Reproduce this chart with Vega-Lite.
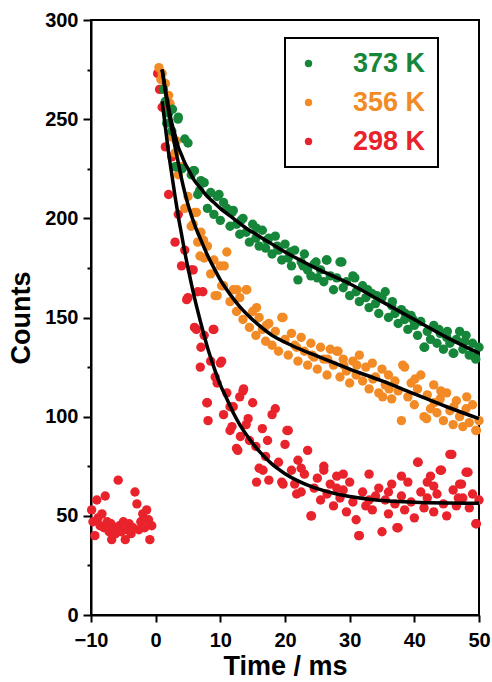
{
  "$schema": "https://vega.github.io/schema/vega-lite/v6.json",
  "width": 388,
  "height": 595,
  "autosize": {"type": "none"},
  "padding": {"left": 91, "top": 20, "right": 13, "bottom": 67},
  "background": "white",
  "config": {
    "view": {"stroke": "black", "strokeWidth": 2},
    "font": "Liberation Sans",
    "axis": {"labelFont": "Liberation Sans", "labelFontWeight": "bold", "labelFontSize": 20, "labelColor": "black", "titleFont": "Liberation Sans", "titleFontWeight": "bold", "titleFontSize": 27, "titleColor": "black"},
    "legend": {"strokeWidth": 2}
  },
  "datasets": {
    "pts": [
      {"series":"298 K","time":-9.9,"counts":53},{"series":"298 K","time":-9.7,"counts":47},{"series":"298 K","time":-9.4,"counts":40},{"series":"298 K","time":-9.1,"counts":58},{"series":"298 K","time":-8.9,"counts":49},{"series":"298 K","time":-8.6,"counts":45},{"series":"298 K","time":-8.3,"counts":51},{"series":"298 K","time":-8.0,"counts":44},{"series":"298 K","time":-7.8,"counts":60},{"series":"298 K","time":-7.5,"counts":47},{"series":"298 K","time":-7.2,"counts":42},{"series":"298 K","time":-6.9,"counts":46},{"series":"298 K","time":-6.8,"counts":38},{"series":"298 K","time":-6.5,"counts":44},{"series":"298 K","time":-6.2,"counts":41},{"series":"298 K","time":-5.8,"counts":68},{"series":"298 K","time":-5.6,"counts":45},{"series":"298 K","time":-5.3,"counts":42},{"series":"298 K","time":-5.0,"counts":47},{"series":"298 K","time":-4.7,"counts":38},{"series":"298 K","time":-4.4,"counts":43},{"series":"298 K","time":-4.1,"counts":46},{"series":"298 K","time":-3.8,"counts":41},{"series":"298 K","time":-3.5,"counts":44},{"series":"298 K","time":-3.2,"counts":62},{"series":"298 K","time":-2.9,"counts":56},{"series":"298 K","time":-2.6,"counts":43},{"series":"298 K","time":-2.3,"counts":47},{"series":"298 K","time":-2.0,"counts":51},{"series":"298 K","time":-1.7,"counts":44},{"series":"298 K","time":-1.4,"counts":53},{"series":"298 K","time":-1.1,"counts":48},{"series":"298 K","time":-0.9,"counts":38},{"series":"298 K","time":-0.6,"counts":45},
      {"series":"298 K","time":0.3,"counts":273},{"series":"298 K","time":0.6,"counts":265},{"series":"298 K","time":1.0,"counts":256},{"series":"298 K","time":1.5,"counts":236},{"series":"298 K","time":2.0,"counts":212},{"series":"298 K","time":2.5,"counts":231},{"series":"298 K","time":3.0,"counts":188},{"series":"298 K","time":3.5,"counts":202},{"series":"298 K","time":4.0,"counts":176},{"series":"298 K","time":4.5,"counts":184},{"series":"298 K","time":5.0,"counts":160},{"series":"298 K","time":5.5,"counts":174},{"series":"298 K","time":6.0,"counts":145},{"series":"298 K","time":6.5,"counts":163},{"series":"298 K","time":7.0,"counts":135},{"series":"298 K","time":7.5,"counts":141},{"series":"298 K","time":8.0,"counts":107},{"series":"298 K","time":8.5,"counts":128},{"series":"298 K","time":9.0,"counts":144},{"series":"298 K","time":9.5,"counts":117},{"series":"298 K","time":10.0,"counts":127},{"series":"298 K","time":10.5,"counts":101},{"series":"298 K","time":11.0,"counts":112},{"series":"298 K","time":11.5,"counts":93},{"series":"298 K","time":12.0,"counts":105},{"series":"298 K","time":12.5,"counts":84},{"series":"298 K","time":13.0,"counts":110},{"series":"298 K","time":13.5,"counts":113},{"series":"298 K","time":14.0,"counts":96},{"series":"298 K","time":14.5,"counts":88},{"series":"298 K","time":15.0,"counts":107},{"series":"298 K","time":15.5,"counts":85},{"series":"298 K","time":16.0,"counts":74},{"series":"298 K","time":16.5,"counts":94},{"series":"298 K","time":17.0,"counts":80},{"series":"298 K","time":17.5,"counts":68},{"series":"298 K","time":18.0,"counts":101},{"series":"298 K","time":18.5,"counts":104},{"series":"298 K","time":19.0,"counts":77},{"series":"298 K","time":19.5,"counts":67},{"series":"298 K","time":20.0,"counts":86},{"series":"298 K","time":20.5,"counts":93},{"series":"298 K","time":21.0,"counts":73},{"series":"298 K","time":21.5,"counts":66},{"series":"298 K","time":22.0,"counts":78},{"series":"298 K","time":22.5,"counts":62},{"series":"298 K","time":23.0,"counts":71},{"series":"298 K","time":23.5,"counts":83},{"series":"298 K","time":24.0,"counts":50},{"series":"298 K","time":24.5,"counts":64},{"series":"298 K","time":25.0,"counts":69},{"series":"298 K","time":25.5,"counts":58},{"series":"298 K","time":26.0,"counts":73},{"series":"298 K","time":26.5,"counts":61},{"series":"298 K","time":27.0,"counts":66},{"series":"298 K","time":27.5,"counts":55},{"series":"298 K","time":28.0,"counts":70},{"series":"298 K","time":28.5,"counts":59},{"series":"298 K","time":29.0,"counts":63},{"series":"298 K","time":29.5,"counts":52},{"series":"298 K","time":30.0,"counts":67},{"series":"298 K","time":30.5,"counts":57},{"series":"298 K","time":31.0,"counts":48},{"series":"298 K","time":31.5,"counts":40},{"series":"298 K","time":32.0,"counts":62},{"series":"298 K","time":32.5,"counts":55},{"series":"298 K","time":33.0,"counts":71},{"series":"298 K","time":33.5,"counts":53},{"series":"298 K","time":34.0,"counts":60},{"series":"298 K","time":34.5,"counts":64},{"series":"298 K","time":35.0,"counts":42},{"series":"298 K","time":35.5,"counts":58},{"series":"298 K","time":36.0,"counts":51},{"series":"298 K","time":36.5,"counts":66},{"series":"298 K","time":37.0,"counts":56},{"series":"298 K","time":37.5,"counts":44},{"series":"298 K","time":38.0,"counts":60},{"series":"298 K","time":38.5,"counts":53},{"series":"298 K","time":39.0,"counts":67},{"series":"298 K","time":39.5,"counts":57},{"series":"298 K","time":40.0,"counts":49},{"series":"298 K","time":40.5,"counts":77},{"series":"298 K","time":41.0,"counts":62},{"series":"298 K","time":41.5,"counts":54},{"series":"298 K","time":42.0,"counts":59},{"series":"298 K","time":42.5,"counts":70},{"series":"298 K","time":43.0,"counts":52},{"series":"298 K","time":43.5,"counts":61},{"series":"298 K","time":44.0,"counts":73},{"series":"298 K","time":44.5,"counts":56},{"series":"298 K","time":45.0,"counts":50},{"series":"298 K","time":45.5,"counts":81},{"series":"298 K","time":46.0,"counts":63},{"series":"298 K","time":46.5,"counts":55},{"series":"298 K","time":47.0,"counts":66},{"series":"298 K","time":47.5,"counts":59},{"series":"298 K","time":48.0,"counts":72},{"series":"298 K","time":48.5,"counts":54},{"series":"298 K","time":49.0,"counts":61},{"series":"298 K","time":49.5,"counts":46},{"series":"298 K","time":50.0,"counts":58},
      {"series":"298 K","time":4.8,"counts":159},{"series":"298 K","time":5.8,"counts":174},{"series":"298 K","time":6.3,"counts":144},{"series":"298 K","time":6.9,"counts":125},{"series":"298 K","time":7.3,"counts":163},{"series":"298 K","time":7.9,"counts":107},{"series":"298 K","time":8.1,"counts":98},{"series":"298 K","time":8.9,"counts":144},{"series":"298 K","time":9.2,"counts":120},{"series":"298 K","time":10.2,"counts":128},{"series":"298 K","time":11.5,"counts":105},{"series":"298 K","time":11.8,"counts":95},{"series":"298 K","time":12.7,"counts":83},{"series":"298 K","time":13.6,"counts":114},{"series":"298 K","time":15.6,"counts":67},{"series":"298 K","time":16.6,"counts":73},{"series":"298 K","time":19.7,"counts":66},{"series":"298 K","time":20.3,"counts":93},{"series":"298 K","time":22.5,"counts":74},{"series":"298 K","time":24.1,"counts":50},{"series":"298 K","time":26.0,"counts":75},{"series":"298 K","time":28.0,"counts":64},{"series":"298 K","time":31.4,"counts":40},{"series":"298 K","time":33.0,"counts":58},{"series":"298 K","time":37.3,"counts":44},{"series":"298 K","time":40.6,"counts":77},{"series":"298 K","time":42.0,"counts":67},{"series":"298 K","time":44.2,"counts":73},{"series":"298 K","time":45.8,"counts":81},{"series":"298 K","time":47.3,"counts":66},{"series":"298 K","time":48.3,"counts":72},{"series":"298 K","time":49.6,"counts":46},{"series":"298 K","time":36.0,"counts":62},{"series":"298 K","time":38.0,"counts":70},{"series":"298 K","time":43.0,"counts":65},{"series":"298 K","time":46.8,"counts":59},{"series":"298 K","time":29.0,"counts":71},{"series":"298 K","time":21.8,"counts":61},{"series":"298 K","time":17.3,"counts":88},{"series":"298 K","time":14.3,"counts":99},{"series":"298 K","time":13.1,"counts":90},
      {"series":"356 K","time":0.5,"counts":276},{"series":"356 K","time":1.0,"counts":273},{"series":"356 K","time":1.5,"counts":268},{"series":"356 K","time":2.0,"counts":262},{"series":"356 K","time":2.5,"counts":241},{"series":"356 K","time":3.0,"counts":233},{"series":"356 K","time":3.5,"counts":222},{"series":"356 K","time":4.0,"counts":226},{"series":"356 K","time":4.5,"counts":205},{"series":"356 K","time":5.0,"counts":211},{"series":"356 K","time":5.5,"counts":196},{"series":"356 K","time":6.0,"counts":203},{"series":"356 K","time":6.5,"counts":188},{"series":"356 K","time":7.0,"counts":193},{"series":"356 K","time":7.5,"counts":180},{"series":"356 K","time":8.0,"counts":186},{"series":"356 K","time":8.5,"counts":172},{"series":"356 K","time":9.0,"counts":179},{"series":"356 K","time":9.5,"counts":161},{"series":"356 K","time":10.0,"counts":176},{"series":"356 K","time":10.5,"counts":166},{"series":"356 K","time":11.0,"counts":183},{"series":"356 K","time":11.5,"counts":158},{"series":"356 K","time":12.0,"counts":164},{"series":"356 K","time":12.5,"counts":153},{"series":"356 K","time":13.0,"counts":160},{"series":"356 K","time":13.5,"counts":149},{"series":"356 K","time":14.0,"counts":164},{"series":"356 K","time":14.5,"counts":145},{"series":"356 K","time":15.0,"counts":153},{"series":"356 K","time":15.5,"counts":141},{"series":"356 K","time":16.0,"counts":150},{"series":"356 K","time":16.5,"counts":144},{"series":"356 K","time":17.0,"counts":138},{"series":"356 K","time":17.5,"counts":147},{"series":"356 K","time":18.0,"counts":136},{"series":"356 K","time":18.5,"counts":143},{"series":"356 K","time":19.0,"counts":133},{"series":"356 K","time":19.5,"counts":150},{"series":"356 K","time":20.0,"counts":139},{"series":"356 K","time":20.5,"counts":131},{"series":"356 K","time":21.0,"counts":142},{"series":"356 K","time":21.5,"counts":136},{"series":"356 K","time":22.0,"counts":128},{"series":"356 K","time":22.5,"counts":140},{"series":"356 K","time":23.0,"counts":133},{"series":"356 K","time":23.5,"counts":126},{"series":"356 K","time":24.0,"counts":137},{"series":"356 K","time":24.5,"counts":130},{"series":"356 K","time":25.0,"counts":124},{"series":"356 K","time":25.5,"counts":135},{"series":"356 K","time":26.0,"counts":129},{"series":"356 K","time":26.5,"counts":121},{"series":"356 K","time":27.0,"counts":134},{"series":"356 K","time":27.5,"counts":126},{"series":"356 K","time":28.0,"counts":133},{"series":"356 K","time":28.5,"counts":120},{"series":"356 K","time":29.0,"counts":129},{"series":"356 K","time":29.5,"counts":123},{"series":"356 K","time":30.0,"counts":117},{"series":"356 K","time":30.5,"counts":128},{"series":"356 K","time":31.0,"counts":121},{"series":"356 K","time":31.5,"counts":131},{"series":"356 K","time":32.0,"counts":118},{"series":"356 K","time":32.5,"counts":125},{"series":"356 K","time":33.0,"counts":114},{"series":"356 K","time":33.5,"counts":127},{"series":"356 K","time":34.0,"counts":120},{"series":"356 K","time":34.5,"counts":112},{"series":"356 K","time":35.0,"counts":124},{"series":"356 K","time":35.5,"counts":116},{"series":"356 K","time":36.0,"counts":121},{"series":"356 K","time":36.5,"counts":109},{"series":"356 K","time":37.0,"counts":118},{"series":"356 K","time":37.5,"counts":113},{"series":"356 K","time":38.0,"counts":98},{"series":"356 K","time":38.5,"counts":125},{"series":"356 K","time":39.0,"counts":110},{"series":"356 K","time":39.5,"counts":117},{"series":"356 K","time":40.0,"counts":106},{"series":"356 K","time":40.5,"counts":114},{"series":"356 K","time":41.0,"counts":121},{"series":"356 K","time":41.5,"counts":100},{"series":"356 K","time":42.0,"counts":111},{"series":"356 K","time":42.5,"counts":104},{"series":"356 K","time":43.0,"counts":116},{"series":"356 K","time":43.5,"counts":102},{"series":"356 K","time":44.0,"counts":109},{"series":"356 K","time":44.5,"counts":98},{"series":"356 K","time":45.0,"counts":112},{"series":"356 K","time":45.5,"counts":103},{"series":"356 K","time":46.0,"counts":96},{"series":"356 K","time":46.5,"counts":108},{"series":"356 K","time":47.0,"counts":100},{"series":"356 K","time":47.5,"counts":95},{"series":"356 K","time":48.0,"counts":104},{"series":"356 K","time":48.5,"counts":97},{"series":"356 K","time":49.0,"counts":106},{"series":"356 K","time":49.5,"counts":93},{"series":"356 K","time":50.0,"counts":98},
      {"series":"356 K","time":0.8,"counts":270},{"series":"356 K","time":2.2,"counts":258},{"series":"356 K","time":3.2,"counts":239},{"series":"356 K","time":5.8,"counts":197},{"series":"356 K","time":6.3,"counts":203},{"series":"356 K","time":6.85,"counts":181},{"series":"356 K","time":7.4,"counts":189},{"series":"356 K","time":9.2,"counts":161},{"series":"356 K","time":10.2,"counts":166},{"series":"356 K","time":10.6,"counts":176},{"series":"356 K","time":12.6,"counts":164},{"series":"356 K","time":14.1,"counts":164},{"series":"356 K","time":19.7,"counts":150},{"series":"356 K","time":21.8,"counts":135},{"series":"356 K","time":24.2,"counts":131},{"series":"356 K","time":26.6,"counts":129},{"series":"356 K","time":28.2,"counts":133},{"series":"356 K","time":31.1,"counts":126},{"series":"356 K","time":33.6,"counts":119},{"series":"356 K","time":36.1,"counts":114},{"series":"356 K","time":38.2,"counts":126},{"series":"356 K","time":40.1,"counts":119},{"series":"356 K","time":41.9,"counts":99},{"series":"356 K","time":44.1,"counts":113},{"series":"356 K","time":46.1,"counts":105},{"series":"356 K","time":48.1,"counts":110},{"series":"356 K","time":49.6,"counts":93},{"series":"356 K","time":15.6,"counts":155},{"series":"356 K","time":17.1,"counts":146},{"series":"356 K","time":29.1,"counts":126},{"series":"356 K","time":35.1,"counts":110},{"series":"356 K","time":43.1,"counts":107},
      {"series":"373 K","time":1.2,"counts":265},{"series":"373 K","time":1.5,"counts":259},{"series":"373 K","time":1.7,"counts":248},{"series":"373 K","time":2.0,"counts":253},{"series":"373 K","time":2.5,"counts":244},{"series":"373 K","time":3.0,"counts":226},{"series":"373 K","time":3.5,"counts":251},{"series":"373 K","time":4.0,"counts":225},{"series":"373 K","time":4.5,"counts":240},{"series":"373 K","time":5.0,"counts":238},{"series":"373 K","time":5.5,"counts":222},{"series":"373 K","time":6.0,"counts":224},{"series":"373 K","time":6.5,"counts":212},{"series":"373 K","time":7.0,"counts":219},{"series":"373 K","time":7.5,"counts":218},{"series":"373 K","time":8.0,"counts":205},{"series":"373 K","time":8.5,"counts":213},{"series":"373 K","time":9.0,"counts":202},{"series":"373 K","time":9.5,"counts":211},{"series":"373 K","time":10.0,"counts":199},{"series":"373 K","time":10.5,"counts":208},{"series":"373 K","time":11.0,"counts":205},{"series":"373 K","time":11.5,"counts":196},{"series":"373 K","time":12.0,"counts":204},{"series":"373 K","time":12.5,"counts":197},{"series":"373 K","time":13.0,"counts":192},{"series":"373 K","time":13.5,"counts":200},{"series":"373 K","time":14.0,"counts":193},{"series":"373 K","time":14.5,"counts":188},{"series":"373 K","time":15.0,"counts":197},{"series":"373 K","time":15.5,"counts":190},{"series":"373 K","time":16.0,"counts":186},{"series":"373 K","time":16.5,"counts":194},{"series":"373 K","time":17.0,"counts":185},{"series":"373 K","time":17.5,"counts":190},{"series":"373 K","time":18.0,"counts":182},{"series":"373 K","time":18.5,"counts":191},{"series":"373 K","time":19.0,"counts":184},{"series":"373 K","time":19.5,"counts":179},{"series":"373 K","time":20.0,"counts":187},{"series":"373 K","time":20.5,"counts":180},{"series":"373 K","time":21.0,"counts":176},{"series":"373 K","time":21.5,"counts":184},{"series":"373 K","time":22.0,"counts":169},{"series":"373 K","time":22.5,"counts":178},{"series":"373 K","time":23.0,"counts":182},{"series":"373 K","time":23.5,"counts":174},{"series":"373 K","time":24.0,"counts":171},{"series":"373 K","time":24.5,"counts":177},{"series":"373 K","time":25.0,"counts":170},{"series":"373 K","time":25.5,"counts":174},{"series":"373 K","time":26.0,"counts":168},{"series":"373 K","time":26.5,"counts":179},{"series":"373 K","time":27.0,"counts":171},{"series":"373 K","time":27.5,"counts":164},{"series":"373 K","time":28.0,"counts":170},{"series":"373 K","time":28.5,"counts":178},{"series":"373 K","time":29.0,"counts":165},{"series":"373 K","time":29.5,"counts":168},{"series":"373 K","time":30.0,"counts":161},{"series":"373 K","time":30.5,"counts":171},{"series":"373 K","time":31.0,"counts":163},{"series":"373 K","time":31.5,"counts":158},{"series":"373 K","time":32.0,"counts":166},{"series":"373 K","time":32.5,"counts":160},{"series":"373 K","time":33.0,"counts":155},{"series":"373 K","time":33.5,"counts":162},{"series":"373 K","time":34.0,"counts":157},{"series":"373 K","time":34.5,"counts":152},{"series":"373 K","time":35.0,"counts":160},{"series":"373 K","time":35.5,"counts":163},{"series":"373 K","time":36.0,"counts":150},{"series":"373 K","time":36.5,"counts":156},{"series":"373 K","time":37.0,"counts":152},{"series":"373 K","time":37.5,"counts":147},{"series":"373 K","time":38.0,"counts":154},{"series":"373 K","time":38.5,"counts":149},{"series":"373 K","time":39.0,"counts":144},{"series":"373 K","time":39.5,"counts":151},{"series":"373 K","time":40.0,"counts":146},{"series":"373 K","time":40.5,"counts":141},{"series":"373 K","time":41.0,"counts":148},{"series":"373 K","time":41.5,"counts":135},{"series":"373 K","time":42.0,"counts":143},{"series":"373 K","time":42.5,"counts":139},{"series":"373 K","time":43.0,"counts":146},{"series":"373 K","time":43.5,"counts":137},{"series":"373 K","time":44.0,"counts":142},{"series":"373 K","time":44.5,"counts":134},{"series":"373 K","time":45.0,"counts":140},{"series":"373 K","time":45.5,"counts":137},{"series":"373 K","time":46.0,"counts":132},{"series":"373 K","time":46.5,"counts":139},{"series":"373 K","time":47.0,"counts":143},{"series":"373 K","time":47.5,"counts":134},{"series":"373 K","time":48.0,"counts":141},{"series":"373 K","time":48.5,"counts":131},{"series":"373 K","time":49.0,"counts":137},{"series":"373 K","time":49.5,"counts":129},{"series":"373 K","time":50.0,"counts":135},
      {"series":"373 K","time":3.25,"counts":226},{"series":"373 K","time":3.45,"counts":250},{"series":"373 K","time":4.1,"counts":225},{"series":"373 K","time":5.8,"counts":224},{"series":"373 K","time":7.4,"counts":218},{"series":"373 K","time":2.6,"counts":255},{"series":"373 K","time":6.8,"counts":214},{"series":"373 K","time":9.8,"counts":212},{"series":"373 K","time":11.8,"counts":203},{"series":"373 K","time":13.2,"counts":199},{"series":"373 K","time":15.6,"counts":195},{"series":"373 K","time":17.2,"counts":189},{"series":"373 K","time":18.8,"counts":186},{"series":"373 K","time":20.8,"counts":183},{"series":"373 K","time":22.8,"counts":176},{"series":"373 K","time":24.8,"counts":178},{"series":"373 K","time":26.4,"counts":179},{"series":"373 K","time":28.8,"counts":178},{"series":"373 K","time":30.8,"counts":170},{"series":"373 K","time":32.8,"counts":164},{"series":"373 K","time":34.2,"counts":161},{"series":"373 K","time":36.6,"counts":158},{"series":"373 K","time":38.6,"counts":152},{"series":"373 K","time":41.6,"counts":135},{"series":"373 K","time":43.8,"counts":144},{"series":"373 K","time":46.1,"counts":132},{"series":"373 K","time":47.8,"counts":138},{"series":"373 K","time":49.4,"counts":130},{"series":"373 K","time":39.8,"counts":149},{"series":"373 K","time":45.1,"counts":143}
    ],
    "fit": [
      {"series":"298 K","time":1,"counts":259},{"series":"298 K","time":1.5,"counts":246},{"series":"298 K","time":2,"counts":233},{"series":"298 K","time":2.5,"counts":222},{"series":"298 K","time":3,"counts":211},{"series":"298 K","time":3.5,"counts":201},{"series":"298 K","time":4,"counts":192},{"series":"298 K","time":4.5,"counts":183},{"series":"298 K","time":5,"counts":175},{"series":"298 K","time":6,"counts":160},{"series":"298 K","time":7,"counts":147},{"series":"298 K","time":8,"counts":135},{"series":"298 K","time":9,"counts":125},{"series":"298 K","time":10,"counts":116},{"series":"298 K","time":11,"counts":109},{"series":"298 K","time":12,"counts":102},{"series":"298 K","time":13,"counts":96},{"series":"298 K","time":14,"counts":91},{"series":"298 K","time":15,"counts":86.5},{"series":"298 K","time":16,"counts":82.6},{"series":"298 K","time":17,"counts":79.2},{"series":"298 K","time":18,"counts":76.1},{"series":"298 K","time":19,"counts":73.5},{"series":"298 K","time":20,"counts":71.2},{"series":"298 K","time":22,"counts":67.6},{"series":"298 K","time":24,"counts":64.8},{"series":"298 K","time":26,"counts":62.7},{"series":"298 K","time":28,"counts":61},{"series":"298 K","time":30,"counts":59.7},{"series":"298 K","time":33,"counts":58.4},{"series":"298 K","time":36,"counts":57.5},{"series":"298 K","time":40,"counts":56.9},{"series":"298 K","time":45,"counts":56.5},{"series":"298 K","time":50,"counts":56.3},
      {"series":"356 K","time":1,"counts":275},{"series":"356 K","time":1.5,"counts":264},{"series":"356 K","time":2,"counts":254},{"series":"356 K","time":2.5,"counts":245},{"series":"356 K","time":3,"counts":236},{"series":"356 K","time":3.5,"counts":228},{"series":"356 K","time":4,"counts":220},{"series":"356 K","time":4.5,"counts":213},{"series":"356 K","time":5,"counts":207},{"series":"356 K","time":6,"counts":197},{"series":"356 K","time":7,"counts":189},{"series":"356 K","time":8,"counts":181.5},{"series":"356 K","time":9,"counts":175},{"series":"356 K","time":10,"counts":169},{"series":"356 K","time":11,"counts":164},{"series":"356 K","time":12,"counts":159.5},{"series":"356 K","time":13,"counts":155.5},{"series":"356 K","time":14,"counts":152},{"series":"356 K","time":16,"counts":146},{"series":"356 K","time":18,"counts":141},{"series":"356 K","time":20,"counts":137.5},{"series":"356 K","time":22,"counts":134.5},{"series":"356 K","time":25,"counts":130.5},{"series":"356 K","time":30,"counts":124},{"series":"356 K","time":35,"counts":118},{"series":"356 K","time":40,"counts":111.5},{"series":"356 K","time":45,"counts":105},{"series":"356 K","time":50,"counts":99},
      {"series":"373 K","time":1,"counts":275},{"series":"373 K","time":1.5,"counts":265},{"series":"373 K","time":2,"counts":256},{"series":"373 K","time":2.5,"counts":248},{"series":"373 K","time":3,"counts":242},{"series":"373 K","time":3.5,"counts":236},{"series":"373 K","time":4,"counts":232},{"series":"373 K","time":4.5,"counts":228},{"series":"373 K","time":5,"counts":225},{"series":"373 K","time":6,"counts":219},{"series":"373 K","time":7,"counts":215},{"series":"373 K","time":8,"counts":211},{"series":"373 K","time":9,"counts":208},{"series":"373 K","time":10,"counts":205},{"series":"373 K","time":12,"counts":200},{"series":"373 K","time":14,"counts":195},{"series":"373 K","time":16,"counts":191},{"series":"373 K","time":18,"counts":187},{"series":"373 K","time":20,"counts":183},{"series":"373 K","time":22,"counts":179.5},{"series":"373 K","time":25,"counts":174.5},{"series":"373 K","time":30,"counts":167},{"series":"373 K","time":35,"counts":158},{"series":"373 K","time":40,"counts":149},{"series":"373 K","time":45,"counts":140},{"series":"373 K","time":50,"counts":132}
    ]
  },
  "layer": [
    {
      "data": {"name": "pts"},
      "mark": {"type": "point", "filled": true, "opacity": 1, "size": 88, "shape": "circle"},
      "encoding": {
        "x": {
          "field": "time", "type": "quantitative",
          "scale": {"domain": [-10, 50], "nice": false, "zero": false},
          "axis": {
            "title": "Time / ms",
            "values": [-10, -5, 0, 5, 10, 15, 20, 25, 30, 35, 40, 45, 50],
            "labelExpr": "datum.value % 10 === 0 ? datum.label : ''",
            "tickSize": {"condition": {"test": "datum.value % 10 === 0", "value": 7}, "value": 4},
            "tickWidth": 2, "tickColor": "black",
            "domainColor": "black", "domainWidth": 2,
            "grid": false,
            "labelFlush": false, "labelOverlap": false,
            "labelFontWeight": "bold", "labelFontSize": 20,
            "labelPadding": 8,
            "titlePadding": 3,
            "encode": {"labels": {"update": {"fontWeight": {"value": "bold"}}}}
          }
        },
        "y": {
          "field": "counts", "type": "quantitative",
          "scale": {"domain": [0, 300], "nice": false},
          "axis": {
            "title": "Counts",
            "values": [0, 25, 50, 75, 100, 125, 150, 175, 200, 225, 250, 275, 300],
            "labelExpr": "datum.value % 50 === 0 ? datum.label : ''",
            "tickSize": {"condition": {"test": "datum.value % 50 === 0", "value": 8}, "value": 4},
            "tickWidth": 2, "tickColor": "black",
            "domainColor": "black", "domainWidth": 2,
            "grid": false,
            "labelFlush": false, "labelOverlap": false,
            "labelFontWeight": "bold", "labelFontSize": 20,
            "labelPadding": 5,
            "titlePadding": 9,
            "encode": {"labels": {"update": {"fontWeight": {"value": "bold"}}}}
          }
        },
        "color": {
          "field": "series", "type": "nominal",
          "scale": {"domain": ["373 K", "356 K", "298 K"], "range": ["#16873a", "#f28b25", "#e9232b"]},
          "legend": {
            "orient": "none", "legendX": 194, "legendY": 18,
            "title": null,
            "strokeColor": "black",
            "padding": 12,
            "symbolType": "circle", "symbolSize": 55, "symbolOffset": -2,
            "symbolStrokeWidth": 0,
            "labelOffset": 31,
            "labelFont": "Liberation Sans", "labelFontWeight": "bold", "labelFontSize": 27,
            "labelColor": {"expr": "scale('color', datum.value)"},
            "rowPadding": 11
          }
        }
      }
    },
    {
      "data": {"name": "fit"},
      "mark": {"type": "line", "color": "black", "strokeWidth": 3.5, "interpolate": "monotone"},
      "encoding": {
        "x": {"field": "time", "type": "quantitative"},
        "y": {"field": "counts", "type": "quantitative"},
        "detail": {"field": "series", "type": "nominal"}
      }
    }
  ]
}
